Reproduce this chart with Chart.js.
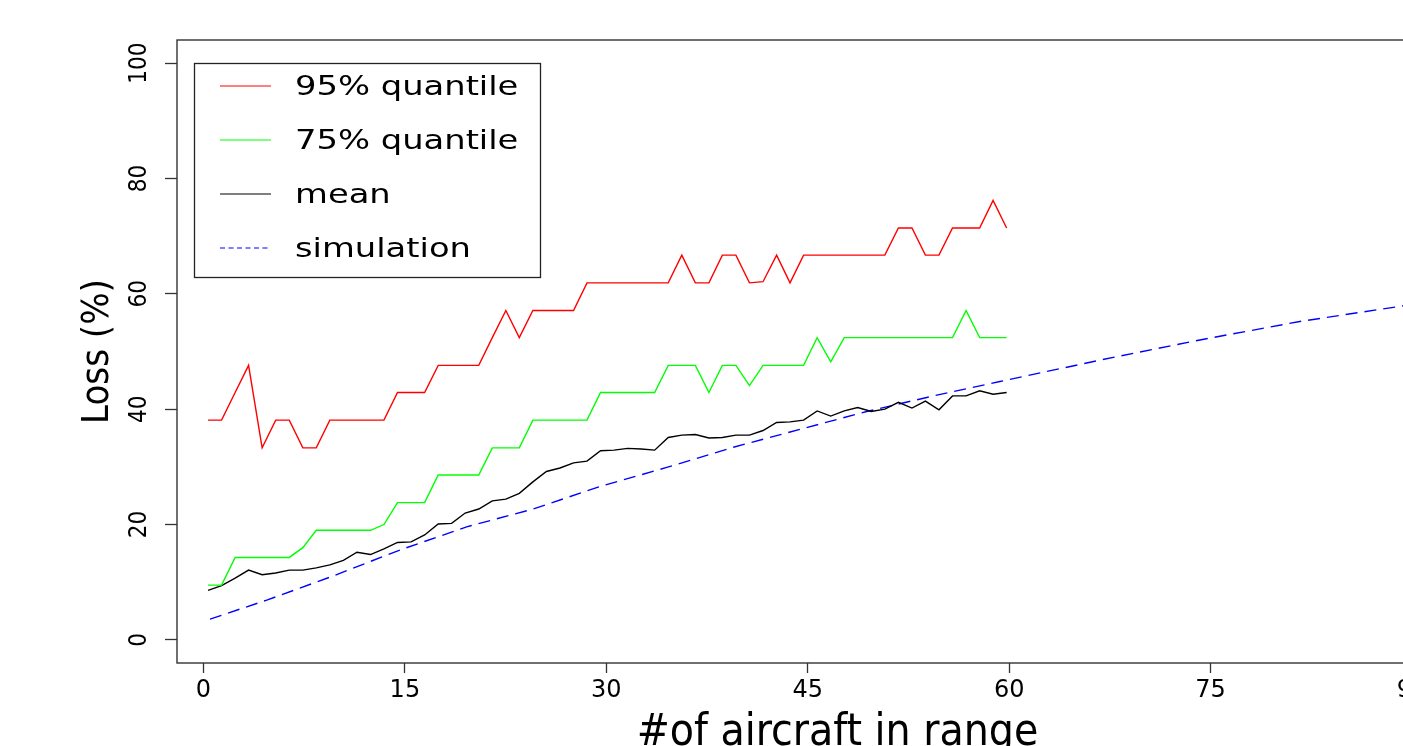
<!DOCTYPE html>
<html>
<head>
<meta charset="utf-8">
<script src="https://cdn.jsdelivr.net/npm/chart.js@4.4.1/dist/chart.umd.min.js"></script>
<style>
  html, body { margin: 0; padding: 0; background: #fff; overflow: hidden; }
  canvas { display: block; }
</style>
</head>
<body>
<canvas id="lossChart" width="1560" height="746" style="width:1560px;height:746px"></canvas>
<script>
// x positions of the 60 measured points
var xPos = [0.34, 1.35, 2.36, 3.36, 4.37, 5.38, 6.39, 7.40, 8.40, 9.41,
  10.42, 11.43, 12.44, 13.44, 14.45, 15.46, 16.47, 17.48, 18.48, 19.49,
  20.50, 21.51, 22.52, 23.52, 24.53, 25.54, 26.55, 27.56, 28.56, 29.57,
  30.58, 31.59, 32.60, 33.60, 34.61, 35.62, 36.63, 37.64, 38.64, 39.65,
  40.66, 41.67, 42.68, 43.68, 44.69, 45.70, 46.71, 47.72, 48.72, 49.73,
  50.74, 51.75, 52.76, 53.76, 54.77, 55.78, 56.79, 57.80, 58.80, 59.81];

var q95 = [38.1, 38.1, 42.9, 47.6, 33.3, 38.1, 38.1, 33.3, 33.3, 38.1,
  38.1, 38.1, 38.1, 38.1, 42.9, 42.9, 42.9, 47.6, 47.6, 47.6,
  47.6, 52.4, 57.1, 52.4, 57.1, 57.1, 57.1, 57.1, 61.9, 61.9,
  61.9, 61.9, 61.9, 61.9, 61.9, 66.7, 61.9, 61.9, 66.7, 66.7,
  61.9, 62.1, 66.7, 61.9, 66.7, 66.7, 66.7, 66.7, 66.7, 66.7,
  66.7, 71.4, 71.4, 66.7, 66.7, 71.4, 71.4, 71.4, 76.2, 71.4];

var q75 = [9.5, 9.5, 14.3, 14.3, 14.3, 14.3, 14.3, 16.0, 19.0, 19.0,
  19.0, 19.0, 19.0, 20.0, 23.8, 23.8, 23.8, 28.6, 28.6, 28.6,
  28.6, 33.3, 33.3, 33.3, 38.1, 38.1, 38.1, 38.1, 38.1, 42.9,
  42.9, 42.9, 42.9, 42.9, 47.6, 47.6, 47.6, 42.9, 47.6, 47.6,
  44.1, 47.6, 47.6, 47.6, 47.6, 52.4, 48.2, 52.4, 52.4, 52.4,
  52.4, 52.4, 52.4, 52.4, 52.4, 52.4, 57.1, 52.4, 52.4, 52.4];

var meanLoss = [8.6, 9.4, 10.7, 12.1, 11.3, 11.6, 12.1, 12.1, 12.5, 13.0,
  13.8, 15.2, 14.8, 15.8, 16.9, 17.0, 18.2, 20.1, 20.2, 22.0,
  22.7, 24.1, 24.4, 25.4, 27.4, 29.2, 29.8, 30.7, 31.0, 32.8,
  32.9, 33.2, 33.1, 32.9, 35.1, 35.5, 35.6, 35.0, 35.1, 35.5,
  35.5, 36.3, 37.7, 37.8, 38.1, 39.7, 38.8, 39.7, 40.3, 39.6,
  40.0, 41.2, 40.2, 41.4, 39.9, 42.3, 42.3, 43.2, 42.6, 42.9];

// simulation curve, read at a coarser spacing
var simX = [0.49, 4.71, 9.67, 14.64, 19.6, 24.56, 29.53, 34.5, 39.46, 44.42,
  49.39, 54.35, 59.31, 66.75, 74.2, 81.64, 89.3, 96.4];
var simLoss = [3.6, 6.9, 11.1, 15.6, 19.6, 22.7, 26.6, 29.9, 33.4, 36.5,
  39.6, 42.3, 44.8, 48.5, 52.0, 55.2, 57.9, 60.4];

var xTicks = [0, 15, 30, 45, 60, 75, 90];
var yTicks = [0, 20, 40, 60, 80, 100];
var seriesLabels = ['95% quantile', '75% quantile', 'mean', 'simulation'];
var seriesColors = ['#ff0000', '#00ff00', '#000000', '#0000ff'];

function pairs(xs, ys) {
  return xs.map(function (x, i) { return { x: x, y: ys[i] }; });
}

// R style frame around the plot region
var frame = {
  id: 'frame',
  afterDatasetsDraw: function (chart) {
    var a = chart.chartArea, ctx = chart.ctx;
    ctx.save();
    ctx.strokeStyle = '#333';
    ctx.lineWidth = 1.4;
    ctx.strokeRect(a.left, a.top, a.right - a.left, a.bottom - a.top);
    ctx.restore();
  }
};

// boxed legend inside the plot, like legend("topleft") in R
var boxLegend = {
  id: 'boxLegend',
  afterDraw: function (chart) {
    var ctx = chart.ctx;
    var a = chart.chartArea;
    var left = a.left + 17, top = a.top + 23;
    ctx.save();
    ctx.strokeStyle = '#222';
    ctx.lineWidth = 1.3;
    ctx.strokeRect(left + 0.5, top + 0.5, 346, 214);
    chart.data.datasets.forEach(function (ds, i) {
      var y = top + 23 + i * 54;
      ctx.strokeStyle = ds.borderColor;
      ctx.lineWidth = 1.2;
      ctx.setLineDash(ds.borderDash ? [5, 3.5] : []);
      ctx.beginPath();
      ctx.moveTo(left + 26, y);
      ctx.lineTo(left + 77, y);
      ctx.stroke();
      ctx.setLineDash([]);
      ctx.save();
      ctx.translate(left + 101, y + 9);
      ctx.scale(1.25, 1);
      ctx.fillStyle = '#000';
      ctx.font = '27px "DejaVu Sans"';
      ctx.textBaseline = 'alphabetic';
      ctx.fillText(ds.label, 0, 0);
      ctx.restore();
    });
    ctx.restore();
  }
};

var datasets = [q95, q75, meanLoss].map(function (vals, i) {
  return {
    label: seriesLabels[i],
    data: pairs(xPos, vals),
    borderColor: seriesColors[i],
    borderWidth: 1.4,
    pointRadius: 0,
    showLine: true,
    tension: 0
  };
});
datasets.push({
  label: seriesLabels[3],
  data: pairs(simX, simLoss),
  borderColor: seriesColors[3],
  borderWidth: 1.4,
  borderDash: [12, 7],
  pointRadius: 0,
  showLine: true,
  tension: 0
});

new Chart(document.getElementById('lossChart'), {
  type: 'scatter',
  data: { datasets: datasets },
  options: {
    responsive: false,
    animation: false,
    layout: { padding: { top: 40, right: 62, left: 0, bottom: 0 } },
    plugins: {
      legend: { display: false },
      tooltip: { enabled: false }
    },
    scales: {
      x: {
        type: 'linear',
        min: -1.97,
        max: 96.4,
        afterBuildTicks: function (scale) {
          scale.ticks = xTicks.map(function (v) { return { value: v }; });
        },
        afterFit: function (scale) { scale.height = 83; },
        border: { display: false },
        grid: {
          drawOnChartArea: false,
          drawTicks: true,
          tickLength: 10,
          tickColor: '#333',
          tickWidth: 1.3
        },
        ticks: {
          autoSkip: false,
          maxRotation: 0,
          padding: 3,
          color: '#000',
          font: { family: 'DejaVu Sans', size: 24 }
        },
        title: {
          display: true,
          text: '#of aircraft in range',
          color: '#000',
          font: { family: 'DejaVu Sans Condensed', size: 44, lineHeight: 1 },
          padding: { top: 0, bottom: -10 }
        }
      },
      y: {
        type: 'linear',
        min: -4,
        max: 104,
        afterBuildTicks: function (scale) {
          scale.ticks = yTicks.map(function (v) { return { value: v }; });
        },
        afterFit: function (scale) { scale.width = 177; },
        border: { display: false },
        grid: {
          drawOnChartArea: false,
          drawTicks: true,
          tickLength: 12,
          tickColor: '#333',
          tickWidth: 1.3
        },
        ticks: {
          autoSkip: false,
          minRotation: 90,
          maxRotation: 90,
          crossAlign: 'center',
          padding: 5,
          color: '#000',
          font: { family: 'DejaVu Sans Condensed', size: 24 }
        },
        title: {
          display: true,
          text: 'Loss (%)',
          color: '#000',
          font: { family: 'DejaVu Sans Condensed', size: 38, lineHeight: 1 },
          padding: { top: 79, bottom: 0 }
        }
      }
    }
  },
  plugins: [frame, boxLegend]
});
</script>
</body>
</html>
